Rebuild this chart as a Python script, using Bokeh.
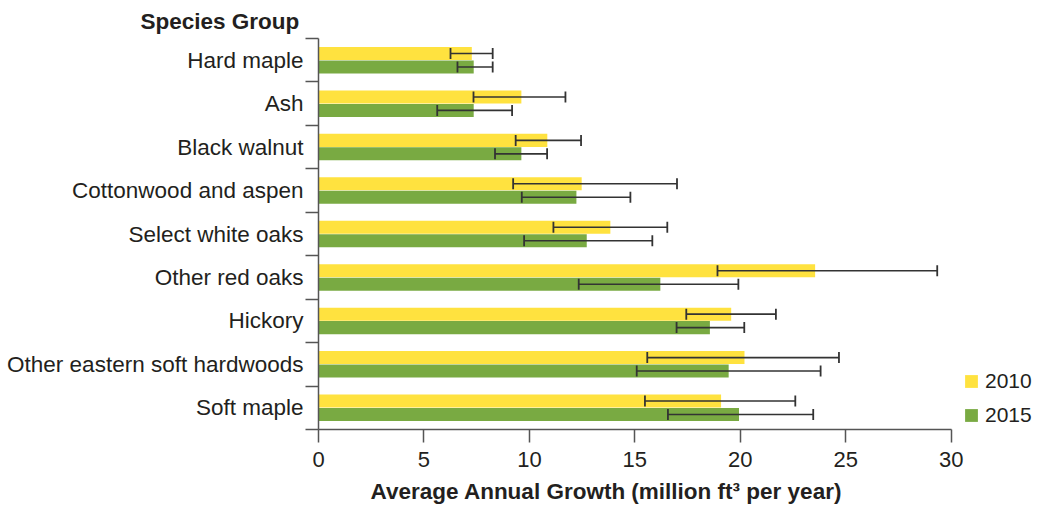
from bokeh.plotting import figure
from bokeh.models import (ColumnDataSource, Range1d, FixedTicker, LinearAxis, CustomJSTickFormatter,
                          Whisker, TeeHead, Legend, LegendItem, Title)
from bokeh.transform import dodge
from bokeh.embed import file_html
from bokeh.resources import INLINE

species = ["Hard maple", "Ash", "Black walnut", "Cottonwood and aspen", "Select white oaks",
           "Other red oaks", "Hickory", "Other eastern soft hardwoods", "Soft maple"]
growth_2010 = [7.27, 9.62, 10.85, 12.48, 13.84, 23.55, 19.57, 20.20, 19.09]
low_2010 = [6.26, 7.35, 9.35, 9.23, 11.14, 18.92, 17.44, 15.59, 15.48]
high_2010 = [8.26, 11.71, 12.45, 17.00, 16.54, 29.34, 21.69, 24.68, 22.61]
growth_2015 = [7.36, 7.36, 9.62, 12.23, 12.72, 16.21, 18.56, 19.45, 19.94]
low_2015 = [6.59, 5.63, 8.37, 9.64, 9.75, 12.34, 16.98, 15.09, 16.57]
high_2015 = [8.26, 9.18, 10.84, 14.79, 15.83, 19.91, 20.19, 23.81, 23.46]
x_ticks = [0, 5, 10, 15, 20, 25, 30]
years = ["2010", "2015"]

YELLOW = "#FFE23F"
GREEN = "#79AA42"
TEXT = "#231f20"
FONT = "Liberation Sans"

src = ColumnDataSource(dict(
    pos=[i + 0.5 for i in range(len(species))],
    g10=growth_2010, lo10=low_2010, hi10=high_2010,
    g15=growth_2015, lo15=low_2015, hi15=high_2015,
))

# frame spans past the last tick so the legend can sit inside it; the axis is bounded to the ticks
p = figure(width=1035, height=511, output_backend="svg", toolbar_location=None,
           x_range=Range1d(0, 34), y_range=Range1d(len(species), 0),
           min_border_left=318, min_border_right=0, min_border_top=38, min_border_bottom=77,
           title="Species Group")
p.outline_line_color = None
p.xgrid.visible = False
p.ygrid.visible = False
p.background_fill_color = "white"
p.border_fill_color = "white"

p.title.text_font = FONT
p.title.text_font_size = "22.5px"
p.title.text_font_style = "bold"
p.title.text_color = TEXT
p.title.align = "left"
p.title.offset = -178
p.title.standoff = 10

BW = 0.3
OFF = 0.155
r10 = p.hbar(y=dodge("pos", -OFF), right="g10", left=0, height=BW, source=src,
             fill_color=YELLOW, line_color=None)
r15 = p.hbar(y=dodge("pos", OFF), right="g15", left=0, height=BW, source=src,
             fill_color=GREEN, line_color=None)

for base, lo, hi in [(dodge("pos", -OFF), "lo10", "hi10"), (dodge("pos", OFF), "lo15", "hi15")]:
    w = Whisker(source=src, base=base, lower=lo, upper=hi, dimension="width",
                line_color="#333333", line_width=1.6, level="overlay",
                lower_head=TeeHead(size=11, line_color="#333333", line_width=1.8),
                upper_head=TeeHead(size=11, line_color="#333333", line_width=1.8))
    p.add_layout(w)

AX = "#555555"
# x axis
xa = p.xaxis[0]
xa.ticker = FixedTicker(ticks=x_ticks)
xa.bounds = (x_ticks[0], x_ticks[-1])
xa.minor_tick_line_color = None
xa.major_tick_out = 13
xa.major_tick_in = 0
xa.axis_line_color = AX
xa.axis_line_width = 1.5
xa.major_tick_line_color = AX
xa.major_tick_line_width = 1.5
xa.major_label_text_font = FONT
xa.major_label_text_font_size = "22px"
xa.major_label_text_color = TEXT
xa.major_label_standoff = 9

xtitle = Title(text="Average Annual Growth (million ft³ per year)", align="left", offset=52,
               text_font=FONT, text_font_size="22.5px", text_font_style="bold",
               text_color=TEXT, standoff=15)
p.add_layout(xtitle, "below")

# y axis with ticks at category boundaries
ya = p.yaxis[0]
ya.ticker = FixedTicker(ticks=list(range(len(species) + 1)))
ya.formatter = CustomJSTickFormatter(code="return ''")
ya.major_label_text_font_size = "0px"
ya.major_label_standoff = 0
ya.minor_tick_line_color = None
ya.major_tick_out = 13
ya.major_tick_in = 0
ya.axis_line_color = AX
ya.axis_line_width = 1.5
ya.major_tick_line_color = AX
ya.major_tick_line_width = 1.5

yl = LinearAxis(ticker=FixedTicker(ticks=[i + 0.5 for i in range(len(species))]),
                formatter=CustomJSTickFormatter(args=dict(names=species),
                                                code="return names[Math.floor(tick)]"))
yl.axis_line_color = None
yl.major_tick_line_color = None
yl.minor_tick_line_color = None
yl.major_tick_out = 0
yl.major_tick_in = 0
yl.major_label_standoff = 2
yl.major_label_text_font = FONT
yl.major_label_text_font_size = "22.5px"
yl.major_label_text_color = TEXT
p.add_layout(yl, "left")

legend = Legend(items=[LegendItem(label=years[0], renderers=[r10]),
                       LegendItem(label=years[1], renderers=[r15])],
                location=(645, 2), orientation="vertical",
                glyph_width=16, glyph_height=16, label_standoff=6, spacing=10,
                padding=0, margin=0, border_line_color=None, background_fill_alpha=0,
                label_text_font=FONT, label_text_font_size="21px", label_text_color=TEXT)
p.add_layout(legend)

open("out.html", "w").write(file_html(p, INLINE))
